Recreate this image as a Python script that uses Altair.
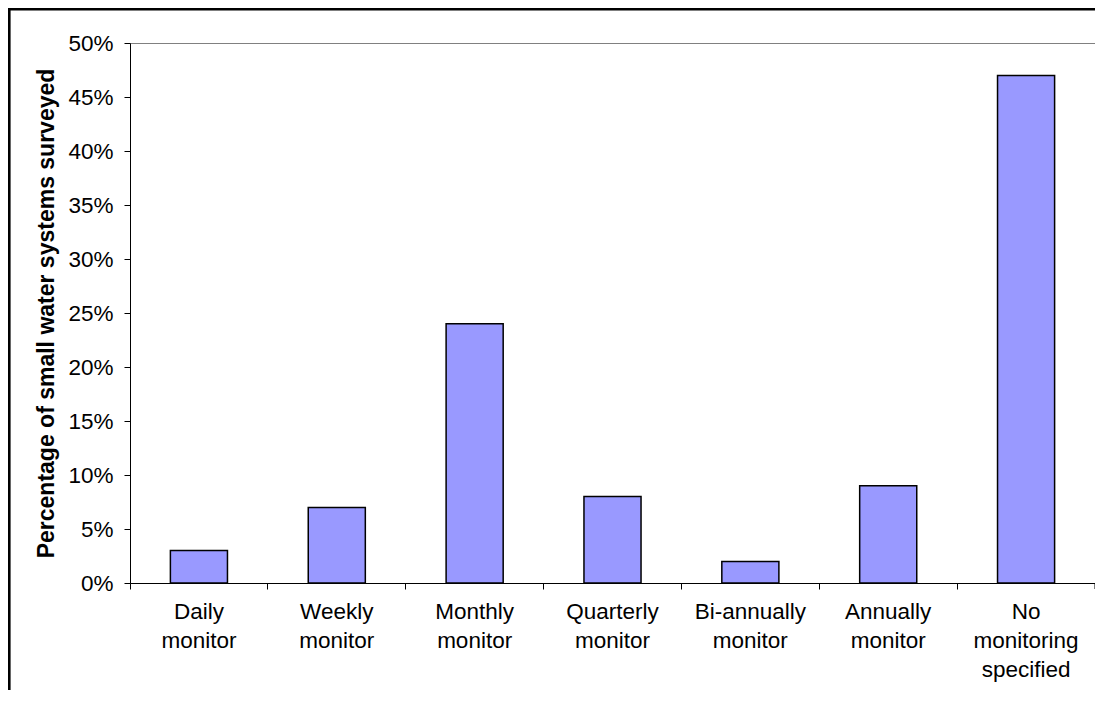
import altair as alt
import pandas as pd

categories = [
    "Daily monitor",
    "Weekly monitor",
    "Monthly monitor",
    "Quarterly monitor",
    "Bi-annually monitor",
    "Annually monitor",
    "No monitoring specified",
]
percentages = [0.03, 0.07, 0.24, 0.08, 0.02, 0.09, 0.47]
y_ticks = [0, 0.05, 0.10, 0.15, 0.20, 0.25, 0.30, 0.35, 0.40, 0.45, 0.50]

df = pd.DataFrame({"category": categories, "pct": percentages})

W, H = 965, 540
FONT = "Liberation Sans"

bars = alt.Chart(df).mark_bar(
    width=alt.RelativeBandSize(0.414),
    fill="#9999FF",
    stroke="#000000",
    strokeWidth=1.5,
).encode(
    x=alt.X(
        "category:N",
        sort=categories,
        scale=alt.Scale(paddingInner=0, paddingOuter=0),
        axis=alt.Axis(
            title=None,
            labelAngle=0,
            bandPosition=0,
            ticks=True,
            tickSize=6,
            tickColor="#000000",
            domainColor="#000000",
            labelExpr="split(datum.value, ' ')",
            labelFont=FONT,
            labelFontSize=22.5,
            labelColor="#000000",
            labelLineHeight=29,
            labelPadding=11,
            labelBaseline="top",
            grid=False,
        ),
    ),
    y=alt.Y(
        "pct:Q",
        scale=alt.Scale(domain=[0, 0.5], nice=False),
        axis=alt.Axis(
            title="Percentage of small water systems surveyed",
            titleFont=FONT,
            titleFontSize=23,
            titleFontWeight="bold",
            titleColor="#000000",
            titlePadding=9,
            values=y_ticks,
            format=".0%",
            labelFont=FONT,
            labelFontSize=22.5,
            labelColor="#000000",
            labelPadding=11,
            tickSize=6,
            tickColor="#000000",
            domainColor="#000000",
            grid=False,
        ),
    ),
)

one = alt.Data(values=[{}])
end_tick = alt.Chart(one).mark_rule(color="#000000", strokeWidth=1).encode(
    x=alt.value(W), y=alt.value(H), y2=alt.value(H + 6)
)
frame_top = alt.Chart(one).mark_rule(color="#000000", strokeWidth=2.6).encode(
    x=alt.value(-122), x2=alt.value(W), y=alt.value(-33.7)
)
frame_left = alt.Chart(one).mark_rule(color="#000000", strokeWidth=2.6).encode(
    x=alt.value(-120.7), y=alt.value(-35), y2=alt.value(H + 120)
)

chart = alt.layer(bars, end_tick, frame_top, frame_left).properties(
    width=W,
    height=H,
    autosize=alt.AutoSizeParams(type="none"),
    padding={"left": 122, "top": 35, "right": 0, "bottom": 107},
    background="#ffffff",
).configure_view(stroke="#808080", strokeWidth=1)

chart.save("out.html", embed_options={"renderer": "svg", "actions": False})
